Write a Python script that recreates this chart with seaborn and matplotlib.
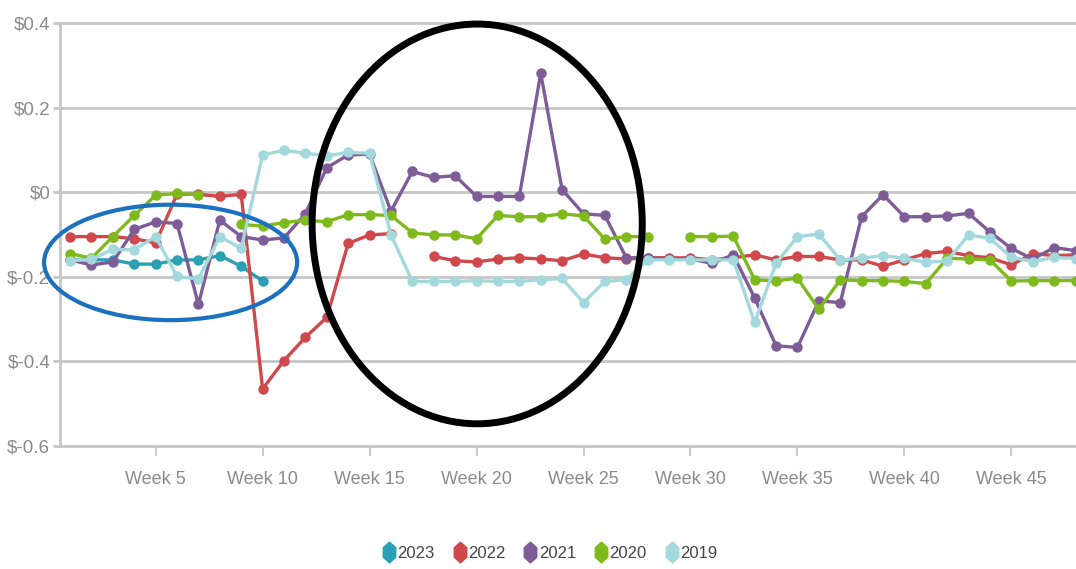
import numpy as np
import pandas as pd
import matplotlib
matplotlib.use("Agg")
import matplotlib.pyplot as plt
import seaborn as sns
from matplotlib.patches import Ellipse
from matplotlib.lines import Line2D

nan = np.nan
weeks = list(range(1, 49))

y2023 = [-0.16, -0.16, -0.16, -0.17, -0.17, -0.16, -0.16, -0.15, -0.175, -0.21] + [nan] * 38

y2022 = [-0.105, -0.105, -0.105, -0.11, -0.12, -0.005, -0.005, -0.01, -0.005, -0.465,
         -0.398, -0.343, -0.296, -0.121, -0.101, -0.098, nan, -0.152, -0.162, -0.165,
         -0.158, -0.155, -0.158, -0.162, -0.146, -0.155, -0.158, -0.155, -0.155, -0.155,
         -0.16, -0.155, -0.148, -0.16, -0.152, -0.152, -0.16, -0.16, -0.175, -0.16,
         -0.145, -0.14, -0.15, -0.155, -0.172, -0.145, -0.15, -0.148]

y2021 = [-0.16, -0.172, -0.165, -0.088, -0.07, -0.074, -0.265, -0.066, -0.105, -0.113,
         -0.108, -0.051, 0.058, 0.088, 0.09, -0.045, 0.049, 0.035, 0.039, -0.01,
         -0.01, -0.01, 0.281, 0.006, -0.051, -0.055, -0.155, -0.155, -0.158, -0.158,
         -0.168, -0.148, -0.25, -0.363, -0.367, -0.257, -0.261, -0.058, -0.006, -0.058,
         -0.058, -0.056, -0.05, -0.094, -0.133, -0.158, -0.131, -0.138]

y2020 = [-0.145, -0.156, -0.105, -0.055, -0.007, -0.003, -0.006, nan, -0.076, -0.08,
         -0.072, -0.066, -0.07, -0.053, -0.053, -0.055, -0.096, -0.101, -0.101, -0.11,
         -0.055, -0.058, -0.058, -0.051, -0.056, -0.111, -0.105, -0.105, nan, -0.105,
         -0.105, -0.104, -0.207, -0.21, -0.203, -0.277, -0.207, -0.209, -0.209, -0.211,
         -0.216, -0.156, -0.158, -0.16, -0.21, -0.209, -0.209, -0.209]

y2019 = [-0.162, -0.159, -0.135, -0.136, -0.105, -0.199, -0.205, -0.105, -0.133, 0.088,
         0.099, 0.092, 0.086, 0.094, 0.092, -0.101, -0.211, -0.211, -0.211, -0.209,
         -0.211, -0.211, -0.207, -0.204, -0.261, -0.211, -0.207, -0.16, -0.16, -0.16,
         -0.16, -0.16, -0.308, -0.168, -0.105, -0.099, -0.16, -0.156, -0.15, -0.156,
         -0.166, -0.162, -0.101, -0.109, -0.154, -0.164, -0.154, -0.157]

years = ["2023", "2022", "2021", "2020", "2019"]
series = [y2023, y2022, y2021, y2020, y2019]
colors = ["#2b9fb3", "#d0484c", "#7d5c97", "#7fba1c", "#a3d9dc"]

tick_weeks = [5, 10, 15, 20, 25, 30, 35, 40, 45]
tick_labels = [f"Week {w}" for w in tick_weeks]
ytick_vals = [-0.6, -0.4, -0.2, 0.0, 0.2, 0.4]
ytick_labels = ["\\$-0.6", "\\$-0.4", "\\$-0.2", "\\$0", "\\$0.2", "\\$0.4"]

# long-form table, with segment ids so gaps stay gaps
rows = []
for yr, vals in zip(years, series):
    seg = 0
    for w, v in zip(weeks, vals):
        if np.isnan(v):
            seg += 1
            continue
        rows.append({"week": w, "value": v, "year": yr, "seg": f"{yr}-{seg}"})
df = pd.DataFrame(rows)

sns.set_theme(style="white")
font = ["Liberation Sans", "DejaVu Sans"]
plt.rcParams["font.family"] = font

fig = plt.figure(figsize=(10.76, 5.69), dpi=100)
ax = fig.add_axes([60 / 1076, 1 - 446 / 569, 1016 / 1076, 423 / 569])

grid_c = "#c6c6c6"
sns.lineplot(data=df, x="week", y="value", hue="year", units="seg", estimator=None,
             hue_order=years, palette=colors, marker="o", markersize=7.5,
             markeredgewidth=0, linewidth=2.4, sort=True, legend=False, ax=ax)

ax.set_xlim(0.53, 48.02)
ax.set_ylim(-0.6, 0.4)
ax.set_yticks(ytick_vals)
ax.set_yticklabels(ytick_labels)
ax.set_xticks(tick_weeks)
ax.set_xticklabels(tick_labels)
ax.set_xlabel("")
ax.set_ylabel("")
ax.yaxis.grid(True, color=grid_c, linewidth=2.0)
ax.xaxis.grid(False)
for gl in ax.get_ygridlines():
    gl.set_clip_on(False)
ax.set_axisbelow(True)
for s in ["top", "right", "bottom"]:
    ax.spines[s].set_visible(False)
ax.spines["left"].set_color(grid_c)
ax.spines["left"].set_linewidth(2.0)
ax.tick_params(axis="x", length=7, width=1.3, color=grid_c, bottom=True,
               labelsize=13, labelcolor="#8a8a8a", pad=11)
ax.tick_params(axis="y", length=5, width=2.0, color=grid_c, left=True,
               labelsize=13.5, labelcolor="#8a8a8a", pad=2)

# annotation ellipses drawn on the screenshot
ax.add_patch(Ellipse((5.70, -0.166), 11.83, 0.273, fill=False, edgecolor="#1c70c0",
                     linewidth=3.0, zorder=10, clip_on=False))
ax.add_patch(Ellipse((20.03, -0.075), 15.43, 0.945, fill=False, edgecolor="#000000",
                     linewidth=5.0, zorder=10, clip_on=False))

hexv = [(0, 1), (0.6, 0.45), (0.6, -0.45), (0, -1), (-0.6, -0.45), (-0.6, 0.45), (0, 1)]
handles = [Line2D([0], [0], color=c, marker=hexv, markersize=15, linestyle="none")
           for c in colors]
leg = fig.legend(handles, years, loc="center", bbox_to_anchor=(0.511, 0.028),
                 ncol=5, frameon=False, handlelength=0.8, handletextpad=0.1,
                 columnspacing=1.1, prop={"family": font, "size": 12})
for t in leg.get_texts():
    t.set_color("#444444")

fig.savefig("out.png", dpi=100)
